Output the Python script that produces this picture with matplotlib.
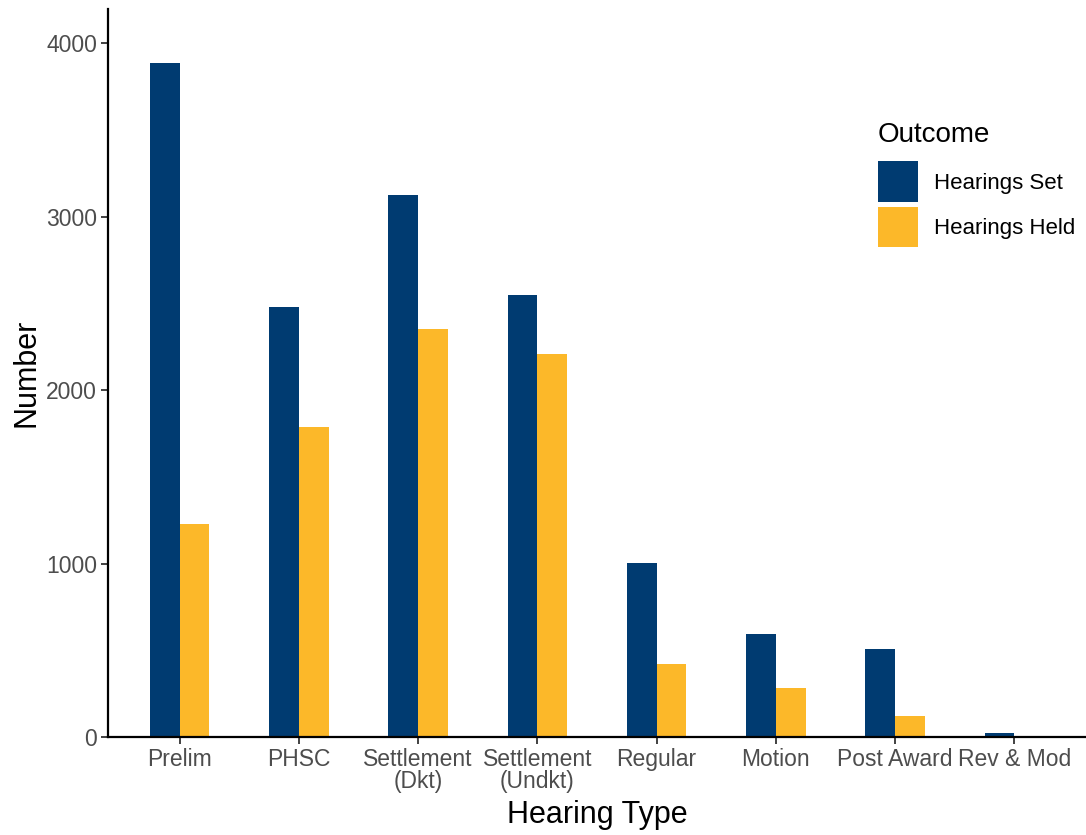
import numpy as np
import matplotlib
matplotlib.use('Agg')
import matplotlib.pyplot as plt

plt.rcParams['font.family'] = ['Liberation Sans', 'DejaVu Sans']

# hearing types and counts
hearing_types = ['Prelim', 'PHSC', 'Settlement\n(Dkt)', 'Settlement\n(Undkt)',
                 'Regular', 'Motion', 'Post Award', 'Rev & Mod']
hearings_set = [3885, 2478, 3124, 2548, 1003, 594, 507, 23]
hearings_held = [1228, 1787, 2352, 2207, 421, 282, 121, 4]
outcome_labels = ['Hearings Set', 'Hearings Held']
colors = ['#003B71', '#FCB829']

fig = plt.figure(figsize=(10.86, 8.35), dpi=100)
ax = fig.add_axes([108/1086, 1 - 737/835, 1 - 108/1086, (737 - 9)/835])

x = np.arange(len(hearing_types))
w = 0.25
ax.bar(x - w/2, hearings_set, width=w, color=colors[0], label=outcome_labels[0])
ax.bar(x + w/2, hearings_held, width=w, color=colors[1], label=outcome_labels[1])

ax.set_xlim(-0.6, len(hearing_types) - 0.4)
ax.set_ylim(0, 4196)
ax.set_yticks([0, 1000, 2000, 3000, 4000])
ax.set_xticks(x)
ax.set_xticklabels(hearing_types, linespacing=0.95)

for s in ['top', 'right']:
    ax.spines[s].set_visible(False)
for s in ['left', 'bottom']:
    ax.spines[s].set_linewidth(1.6)
    ax.spines[s].set_color('black')

ax.tick_params(axis='both', colors='#333333', labelcolor='#4D4D4D',
               labelsize=16.5, length=5, width=1.3, pad=3)

ax.set_xlabel('Hearing Type', fontsize=22, labelpad=5)
ax.set_ylabel('Number', fontsize=22, labelpad=3)

leg = ax.legend(title='Outcome', loc='upper left', bbox_to_anchor=(867/1086, 1 - 111/835),
                bbox_transform=fig.transFigure, frameon=False, fontsize=16,
                title_fontsize=20, handlelength=1.8, handleheight=2.45,
                labelspacing=0.2, handletextpad=0.7, borderpad=0)
leg._legend_box.align = 'left'
leg._legend_box.sep = 9.5

fig.savefig('out.png', dpi=100)
